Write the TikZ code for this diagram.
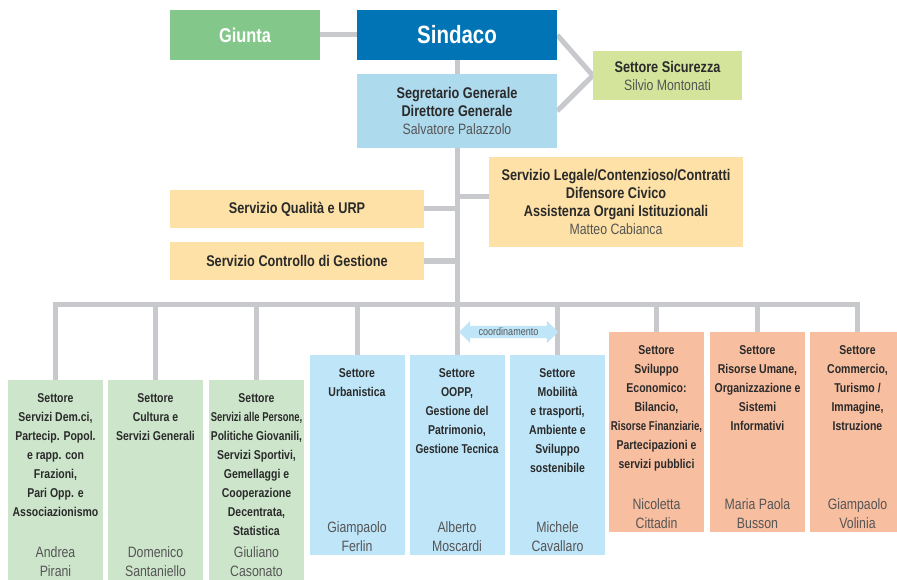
\documentclass[tikz,border=0pt]{standalone}
\usepackage{fontspec}
\usepackage{graphicx}
\setmainfont[FakeStretch=0.82]{Liberation Sans}
\usetikzlibrary{backgrounds,shapes.arrows}
\definecolor{cgiunta}{HTML}{83C88A}
\definecolor{csindaco}{HTML}{0074B4}
\definecolor{csegr}{HTML}{AEDAEE}
\definecolor{csicur}{HTML}{D4E49B}
\definecolor{cserv}{HTML}{FDE1A6}
\definecolor{cgreen}{HTML}{CDE6CB}
\definecolor{cblue}{HTML}{BEE5F8}
\definecolor{corange}{HTML}{F8BEA0}
\definecolor{cline}{HTML}{C8C9CC}
\definecolor{ctxt}{HTML}{2A2A2A}
\definecolor{cname}{HTML}{555555}
\newcommand\fs[2]{\fontsize{#1}{#2}\selectfont}
\newcommand\nm[1]{{\mdseries\color{cname}\fs{15}{18}#1}}
\newcommand\mksector[6]{%
  \node[sbox, fill=#4, anchor=north] (#1) at (#2,#3) {};
  \node[stitle, anchor=north] (#1t) at ([yshift=-13.5pt]#1.north) {#5};
  \node[sname, anchor=north] (#1n) at ([yshift=-166pt]#1.north) {#6};
}
\begin{document}
\begin{tikzpicture}[x=1pt,y=-1pt,
  topbox/.style={inner sep=0pt, align=center, text=ctxt, font=\fs{15.5}{18}\bfseries},
  conn/.style={draw=cline, line width=5pt, line join=miter},
  sbox/.style={minimum width=95pt, minimum height=200pt, inner sep=0pt},
  stitle/.style={inner sep=0pt, align=center, text=ctxt, font=\fs{12.8}{19}\bfseries},
  sname/.style={inner sep=0pt, align=center, text=cname, font=\fs{15}{19}}]
\useasboundingbox (0,0) rectangle (897,580);

\node[topbox, fill=cgiunta, minimum width=150pt, minimum height=50pt, text=white, font=\fs{20}{24}\bfseries] (giunta) at (245,35) {Giunta};
\node[topbox, fill=csindaco, minimum width=200pt, minimum height=50pt, text=white, font=\fs{25}{28}\bfseries] (sindaco) at (457,35) {Sindaco};
\node[topbox, fill=csegr, minimum width=200pt, minimum height=74pt] (segr) at (457,111) {Segretario Generale\\Direttore Generale\\\nm{Salvatore Palazzolo}};
\node[topbox, fill=csicur, minimum width=149pt, minimum height=49pt] (sicur) at (667.5,75.5) {Settore Sicurezza\\\nm{Silvio Montonati}};
\node[topbox, fill=cserv, minimum width=254pt, minimum height=90pt] (legale) at (616,202) {Servizio Legale/Contenzioso/Contratti\\Difensore Civico\\Assistenza Organi Istituzionali\\\nm{Matteo Cabianca}};
\node[topbox, fill=cserv, minimum width=254pt, minimum height=38pt] (qual) at (297,209) {Servizio Qualità e URP};
\node[topbox, fill=cserv, minimum width=254pt, minimum height=38pt] (ctrl) at (297,261) {Servizio Controllo di Gestione};

\mksector{s1}{55.5}{380}{cgreen}{Settore\\Servizi Dem.ci,\\Partecip. Popol.\\e rapp. con\\Frazioni,\\Pari Opp. e\\Associazionismo}{Andrea\\Pirani}
\mksector{s2}{155.5}{380}{cgreen}{Settore\\Cultura e\\Servizi Generali}{Domenico\\Santaniello}
\mksector{s3}{256.5}{380}{cgreen}{Settore\\\scalebox{0.9}[1]{Servizi alle Persone,}\\\scalebox{0.97}[1]{Politiche Giovanili,}\\Servizi Sportivi,\\Gemellaggi e\\Cooperazione\\Decentrata,\\Statistica}{Giuliano\\Casonato}
\mksector{s4}{357}{355}{cblue}{Settore\\Urbanistica}{Giampaolo\\Ferlin}
\mksector{s5}{457}{355}{cblue}{Settore\\OOPP,\\Gestione del\\Patrimonio,\\\scalebox{0.96}[1]{Gestione Tecnica}}{Alberto\\Moscardi}
\mksector{s6}{557.5}{355}{cblue}{Settore\\Mobilità\\e trasporti,\\Ambiente e\\Sviluppo\\sostenibile}{Michele\\Cavallaro}
\mksector{s7}{656.5}{332}{corange}{Settore\\Sviluppo\\Economico:\\Bilancio,\\\scalebox{0.92}[1]{Risorse Finanziarie,}\\Partecipazioni e\\servizi pubblici}{Nicoletta\\Cittadin}
\mksector{s8}{757.5}{332}{corange}{Settore\\Risorse Umane,\\Organizzazione e\\Sistemi\\Informativi}{Maria Paola\\Busson}
\mksector{s9}{857.5}{332}{corange}{Settore\\Commercio,\\Turismo /\\Immagine,\\Istruzione}{Giampaolo\\Volinia}

\node[double arrow, fill=cblue, double arrow head extend=5pt, minimum height=99pt, inner xsep=2pt, inner ysep=2pt, text=cname, font=\fs{11}{11}] (coord) at (508.5,332) {coordinamento};

\begin{pgfonlayer}{background}
\draw[conn] (giunta) -- (sindaco);
\draw[conn] (sindaco) -- (segr);
\draw[conn] (sindaco.east) -- (sicur.west) -- (segr.east);
\draw[conn] (segr.south) -- (s5.north);
\draw[conn] (qual.east) -- (qual.east -| segr.south);
\draw[conn] (ctrl.east) -- (ctrl.east -| segr.south);
\draw[conn] ([yshift=5pt]legale.west) -- ([yshift=5pt]legale.west -| segr.south);
\coordinate (bus) at (457,304);
\draw[conn] (s1.north) -- (s1.north |- bus) -- (s9.north |- bus) -- (s9.north);
\foreach \s in {s2,s3,s4,s6,s7,s8}{
  \draw[conn] (\s.north |- bus) -- (\s.north);
}
\end{pgfonlayer}
\end{tikzpicture}
\end{document}
